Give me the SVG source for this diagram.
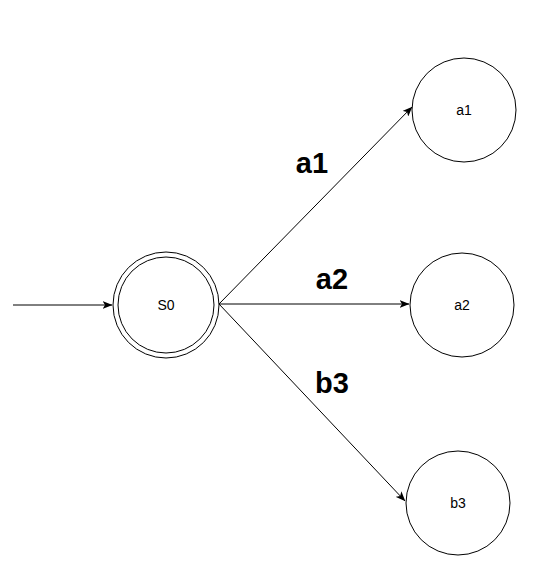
<svg xmlns="http://www.w3.org/2000/svg" width="541" height="578" viewBox="0 0 541 578">
<style>
.node{fill:#fff;stroke:#000;stroke-width:1}
.lbl{font-family:"Liberation Sans",Arial,sans-serif;font-size:14px;fill:#000;text-anchor:middle;dominant-baseline:central}
.big{font-family:"Liberation Sans",Arial,sans-serif;font-size:29px;font-weight:bold;fill:#000;text-anchor:middle}
.edge{stroke:#000;stroke-width:1;fill:none;marker-end:url(#arr)}
</style>
<defs>
<marker id="arr" viewBox="0 0 10 8" refX="9.5" refY="4" markerWidth="10" markerHeight="8" markerUnits="userSpaceOnUse" orient="auto">
<path d="M0,0 L10,4 L0,8 L2.5,4 Z" fill="#000"/>
</marker>
</defs>
<rect width="541" height="578" fill="#fff"/>
<g id="connectors">
<line class="edge" x1="13" y1="305" x2="112" y2="305"/>
<line class="edge" x1="219" y1="304" x2="412" y2="107"/>
<line class="edge" x1="219" y1="304" x2="409" y2="304"/>
<line class="edge" x1="219" y1="304" x2="405" y2="501"/>
<text class="big" x="312" y="173">a1</text>
<text class="big" x="332" y="289">a2</text>
<text class="big" x="332" y="393">b3</text>
</g>
<g id="S0">
<circle class="node" cx="166" cy="305" r="53"/>
<circle class="node" cx="166" cy="305" r="48"/>
<text class="lbl" x="166" y="305">S0</text>
</g>
<g id="a1">
<circle class="node" cx="464" cy="110" r="52"/>
<text class="lbl" x="464" y="110">a1</text>
</g>
<g id="a2">
<circle class="node" cx="462" cy="305" r="52"/>
<text class="lbl" x="462" y="305">a2</text>
</g>
<g id="b3">
<circle class="node" cx="458" cy="503" r="52"/>
<text class="lbl" x="458" y="503">b3</text>
</g>
</svg>
